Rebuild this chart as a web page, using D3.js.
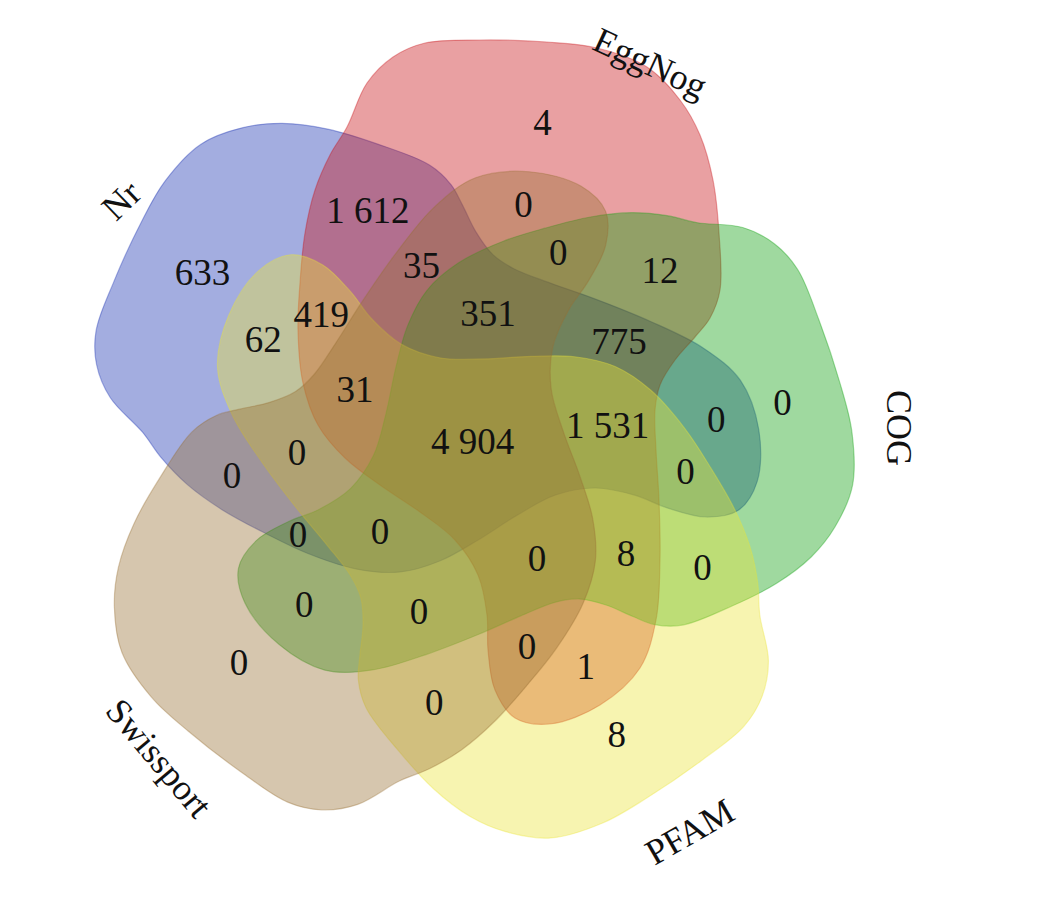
<!DOCTYPE html>
<html>
<head>
<meta charset="utf-8">
<script src="https://cdn.jsdelivr.net/npm/d3@7"></script>
<style>
  body { margin: 0; background: #fff; }
  text { font-family: "Liberation Serif", "DejaVu Serif", serif; fill: #111; }
</style>
</head>
<body>
<div id="venn"></div>
<script>
// the five sets, clockwise from the top
var setNames  = ["EggNog", "COG", "PFAM", "Swissport", "Nr"];
var setKeys   = ["E", "C", "P", "S", "N"];
var setColors = ["#c81217", "#0fa00f", "#ebe43a", "#997135", "#1932b2"];

// where the set names sit (degrees clockwise from up, distance from centre, text rotation)
var labelAngles  = [24, 87, 151, 226, 305];
var labelRadius  = [424, 422, 436, 443, 436];
var labelRotate  = [25, 90, -30, 50, -44];

// every region of the diagram and its count
var regionKeys   = ["E", "C", "P", "S", "N",
                    "EC", "CP", "PS", "SN", "NE",
                    "ES", "CN", "PE", "SC", "NP",
                    "ESC", "CNP", "PES", "SCN", "NPE",
                    "ENS", "CEN", "PCE", "SPC", "NSP",
                    "ECNS", "ECPN", "ECPS", "CPSN", "EPSN",
                    "ECPSN"];
var regionValues = [4, 0, 8, 0, 633,
                    12, 0, 0, 0, 1612,
                    0, 0, 1, 0, 62,
                    0, 0, 0, 0, 419,
                    35, 775, 8, 0, 0,
                    351, 1531, 0, 0, 31,
                    4904];

var width = 1039,
    height = 899,
    cx = 478,
    cy = 450;

// outline of one petal (the top set), offsets from the centre; the others are this turned round
var petal = [[-131,-323],[-111,-367],[-85,-393],[-53,-407],[2,-410],[69,-408],[119,-402],
  [169,-383],[202,-350],[222,-315],[235,-270],[241,-217],[242,-160],[232,-132],[217,-113],
  [197,-90],[182,-65],[177,-40],[178,0],[181,50],[182,110],[178,170],[162,218],[122,255],
  [72,274],[37,268],[17,240],[10,200],[9,165],[0,125],[-23,90],[-58,62],[-98,35],[-133,8],
  [-160,-25],[-175,-67],[-180,-120],[-178,-167],[-173,-217],[-163,-260],[-148,-295]];
var tipY = 274;

// how each petal is turned, stretched along its length, widened and nudged
var petalTurn    = [0, 70, 144, 216, 293];
var petalStretch = [1, 0.93, 0.96, 0.985, 0.98];
var petalWiden   = [1, 1, 1, 1, 0.96];
var petalShift   = [[0, 0], [0, -8], [0, 0], [0, 0], [0, -12]];

var svg = d3.select("#venn")
  .append("svg")
    .attr("width", width)
    .attr("height", height);

var g = svg.append("g")
    .attr("transform", "translate(" + cx + "," + cy + ")");

var line = d3.line().curve(d3.curveCatmullRomClosed.alpha(0.5));

function turned(i) {
  var a = petalTurn[i] * Math.PI / 180, c = Math.cos(a), s = Math.sin(a);
  return petal.map(p => {
    var x = p[0] * petalWiden[i], y = tipY + (p[1] - tipY) * petalStretch[i];
    return [x * c - y * s + petalShift[i][0], x * s + y * c + petalShift[i][1]];
  });
}

var sets = setNames.map((name, i) => ({name: name, i: i, d: line(turned(i))}));
var drawOrder = [4, 0, 1, 2, 3];

g.selectAll("path.set")
  .data(drawOrder.map(i => sets[i]))
  .enter()
  .append("path")
    .attr("class", "set")
    .attr("d", d => d.d)
    .attr("fill", d => setColors[d.i])
    .attr("fill-opacity", 0.4)
    .attr("stroke", d => setColors[d.i])
    .attr("stroke-opacity", 0.35)
    .attr("stroke-width", 1.2);

// sample each outline into a polygon so regions can be found
var polys = [];
g.selectAll("path.set").each(function(d) {
  var len = this.getTotalLength(), n = 240, pts = [];
  for (var k = 0; k < n; k++) {
    var p = this.getPointAtLength(len * k / n);
    pts.push([p.x, p.y]);
  }
  polys[d.i] = pts;
});

function maskAt(x, y) {
  var m = 0;
  for (var s = 0; s < 5; s++) if (d3.polygonContains(polys[s], [x, y])) m |= 1 << s;
  return m;
}
function clearance(x, y) {
  var dmin = Infinity;
  for (var s = 0; s < 5; s++) {
    var P = polys[s];
    for (var k = 0; k < P.length; k++) {
      var dx = P[k][0] - x, dy = P[k][1] - y, dd = dx * dx + dy * dy;
      if (dd < dmin) dmin = dd;
    }
  }
  return Math.sqrt(dmin);
}

// per region: the grid point furthest from any outline, and the centre of mass
var best = {}, sums = {};
for (var y = -440; y <= 440; y += 4) {
  for (var x = -440; x <= 440; x += 4) {
    var mask = maskAt(x, y);
    if (!mask) continue;
    var d = clearance(x, y);
    if (!best[mask] || best[mask].d < d) best[mask] = {x: x, y: y, d: d};
    if (!sums[mask]) sums[mask] = {x: 0, y: 0, n: 0};
    sums[mask].x += x; sums[mask].y += y; sums[mask].n++;
  }
}

function spotFor(mask) {
  var s = sums[mask];
  if (!s) return null;
  var mx = s.x / s.n, my = s.y / s.n;
  if (maskAt(mx, my) === mask && clearance(mx, my) > 20) return {x: mx, y: my};
  return best[mask];
}

function maskOf(key) {
  return key.split("").reduce((m, ch) => m | (1 << setKeys.indexOf(ch)), 0);
}

var fmt = d3.formatLocale({decimal: ".", thousands: " ", grouping: [3], currency: ["", ""]}).format(",");

var regions = regionKeys.map((k, i) => ({key: k, value: regionValues[i], spot: spotFor(maskOf(k))}))
  .filter(d => d.spot);

g.selectAll("text.count")
  .data(regions)
  .enter()
  .append("text")
    .attr("class", "count")
    .attr("x", d => d.spot.x)
    .attr("y", d => d.spot.y)
    .attr("text-anchor", "middle")
    .attr("dy", "0.35em")
    .attr("font-size", 37)
    .text(d => fmt(d.value));

// set names round the outside
g.selectAll("text.setname")
  .data(sets)
  .enter()
  .append("text")
    .attr("class", "setname")
    .attr("transform", d => {
      var p = d3.pointRadial(labelAngles[d.i] * Math.PI / 180, labelRadius[d.i]);
      return "translate(" + p[0] + "," + p[1] + ") rotate(" + labelRotate[d.i] + ")";
    })
    .attr("text-anchor", "middle")
    .attr("dy", "0.35em")
    .attr("font-size", 36)
    .text(d => d.name);
</script>
</body>
</html>
